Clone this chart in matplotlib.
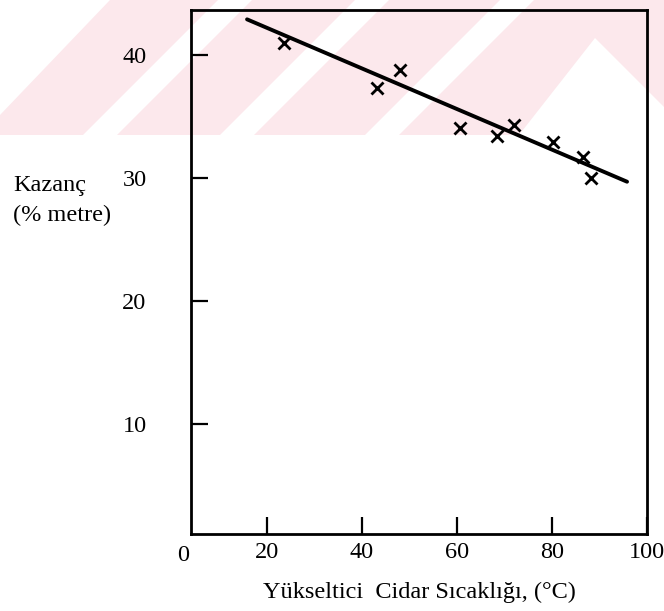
import numpy as np
import matplotlib
matplotlib.use('Agg')
import matplotlib.pyplot as plt
from matplotlib.patches import Polygon
from matplotlib.transforms import blended_transform_factory

plt.rcParams['font.family'] = ['Liberation Serif', 'DejaVu Serif']

# measured points (x marks) and the fitted line
temp = [23.6, 43.2, 48.0, 60.6, 68.4, 72.0, 80.2, 86.5, 88.2]
gain = [41.0, 37.3, 38.8, 34.1, 33.4, 34.3, 32.9, 31.7, 30.0]
fit_x = [15.8, 95.8]
fit_y = [42.9, 29.7]

x_ticks = [20, 40, 60, 80, 100]
y_ticks = [10, 20, 30, 40]

W, H = 664, 611
fig = plt.figure(figsize=(W / 100, H / 100), dpi=100, facecolor='white')

# faded pink watermark band at the top (pixel coords -> figure fraction)
def pix(pts):
    return [(px / W, 1 - py / H) for px, py in pts]

pink = '#fce8ec'
fig.add_artist(Polygon(pix([(110, 0), (664, 0), (664, 135), (0, 135), (0, 115)]),
                       closed=True, transform=fig.transFigure, facecolor=pink,
                       edgecolor='none', zorder=0))
for a in [83, 220, 365]:
    fig.add_artist(Polygon(pix([(a, 135), (a + 34, 135), (a + 169, 0), (a + 135, 0)]),
                           closed=True, transform=fig.transFigure, facecolor='white',
                           edgecolor='none', zorder=0))
fig.add_artist(Polygon(pix([(595, 38), (519, 135), (664, 135), (664, 107)]),
                       closed=True, transform=fig.transFigure, facecolor='white',
                       edgecolor='none', zorder=0))

ax = fig.add_axes([191 / W, 1 - 534 / H, (647 - 191) / W, (534 - 10) / H])
ax.patch.set_alpha(0)

ax.plot(fit_x, fit_y, color='black', lw=2.8, solid_capstyle='round', zorder=3)
ax.scatter(temp, gain, marker='x', s=75, color='black', linewidths=2.0, zorder=4)

ax.set_xlim(4.0, 100)
ax.set_ylim(1.06, 43.66)

ax.set_xticks(x_ticks)
ax.set_xticklabels([str(v) for v in x_ticks])
ax.set_yticks(y_ticks)
ax.set_yticklabels([str(v) for v in y_ticks])
ax.tick_params(axis='x', direction='in', length=12, width=1.6, labelsize=17.5, pad=6)
ax.tick_params(axis='y', direction='in', length=12, width=1.6, labelsize=17.5, pad=32)
for s in ax.spines.values():
    s.set_linewidth(2.0)

# the '0' label sits just left of the axis frame
trans = blended_transform_factory(ax.transData, ax.transAxes)
ax.text(2.3, -0.021, '0', transform=trans, ha='center', va='top', fontsize=17.5,
        clip_on=False)

ax.set_xlabel('Yükseltici  Cidar Sıcaklığı, (°C)', fontsize=17.5, labelpad=13)

fig.text(13 / W, 1 - 185 / H, 'Kazanç', fontsize=17.5, ha='left', va='center')
fig.text(13 / W, 1 - 215 / H, '(% metre)', fontsize=17.5, ha='left', va='center')

fig.savefig('out.png', dpi=100, facecolor='white')
